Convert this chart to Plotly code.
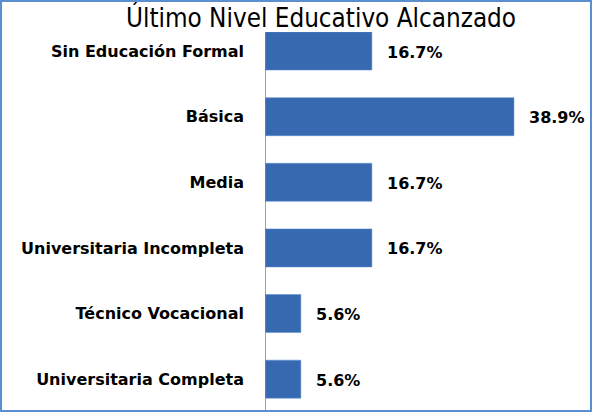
import plotly.graph_objects as go

categories = ["Sin Educación Formal", "Básica", "Media", "Universitaria Incompleta",
              "Técnico Vocacional", "Universitaria Completa"]
values = [16.7, 38.9, 16.7, 16.7, 5.6, 5.6]
labels = ["16.7%", "38.9%", "16.7%", "16.7%", "5.6%", "5.6%"]

W, H = 592, 412
ML, MR, MT, MB = 265, 2, 32, 2
pos = list(range(len(categories)))

fig = go.Figure()
fig.add_trace(go.Bar(
    x=values, y=pos, orientation="h",
    width=0.58,
    marker=dict(color="#3669b0", line=dict(color="#5b8fd6", width=0.5)),
    hoverinfo="skip",
))

for v, p, t in zip(values, pos, labels):
    fig.add_annotation(x=v, y=p, text=t, showarrow=False, xanchor="left",
                       xshift=13, yshift=-1,
                       font=dict(family="DejaVu Sans", size=16, color="#000", weight="bold"),
                       )

pw = W - ML - MR
ph = H - MT - MB
# border around the whole chart (paper coords relative to plot area)
fig.add_shape(type="rect", xref="paper", yref="paper",
              x0=(1 - ML) / pw, x1=(W - 1 - ML) / pw,
              y0=(1 - MB) / ph, y1=(H - 1 - MB) / ph,
              line=dict(color="#5b8fd0", width=2), layer="above")

fig.update_layout(
    template="none",
    width=W, height=H,
    margin=dict(l=ML, r=MR, t=MT, b=MB, autoexpand=False),
    paper_bgcolor="white", plot_bgcolor="white",
    showlegend=False,
    title=dict(text="Último Nivel Educativo Alcanzado", x=321 / W, xanchor="center",
               y=1 - 9 / H, yanchor="top",
               font=dict(family="Liberation Sans Narrow, DejaVu Sans Condensed", size=25.8, color="#000")),
    xaxis=dict(range=[0, pw / 6.4], visible=False, fixedrange=True, automargin=False),
    yaxis=dict(range=[5.47, -0.29], tickvals=pos, ticktext=categories, automargin=False,
               showgrid=False, zeroline=False, showline=False, ticks="",
               ticklabelstandoff=20,
               tickfont=dict(family="DejaVu Sans", size=16, color="#000", weight="bold")),
)
fig.add_shape(type="line", xref="x", yref="paper", x0=0, x1=0, y0=0, y1=1,
              line=dict(color="#808080", width=1.5))

fig.write_html("out.html", config={"displayModeBar": False},
               post_script="document.body.style.margin='0';document.body.style.overflow='hidden';")
